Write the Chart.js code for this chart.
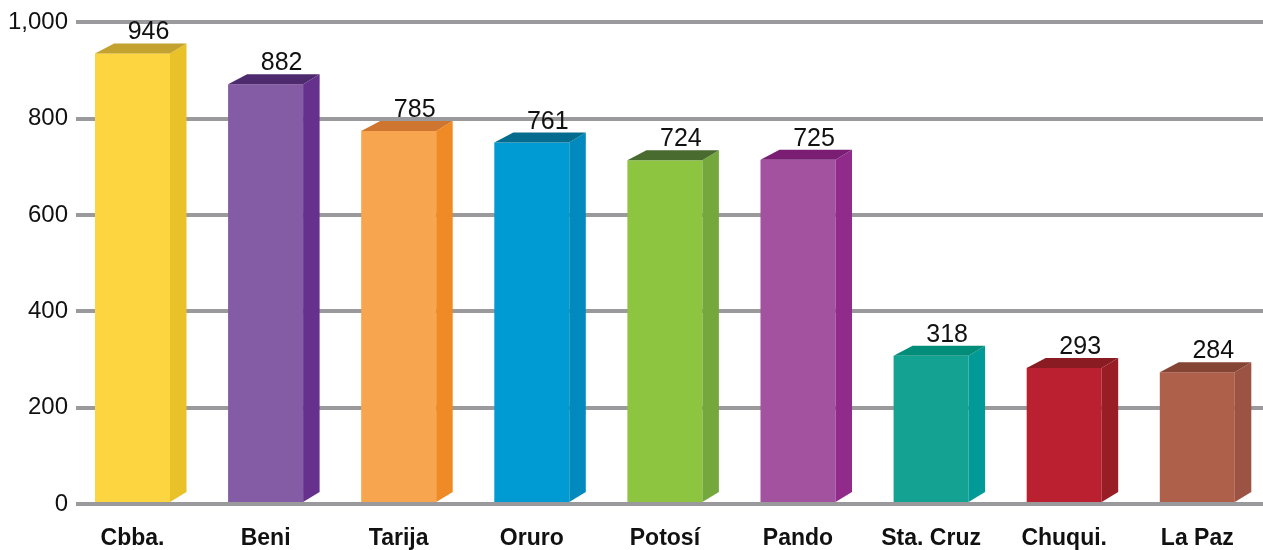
<!DOCTYPE html>
<html>
<head>
<meta charset="utf-8">
<script src="https://cdn.jsdelivr.net/npm/chart.js@4/dist/chart.umd.min.js"></script>
<style>
html,body{margin:0;padding:0;background:#fff;}
#wrap{width:1263px;height:550px;position:relative;}
</style>
</head>
<body>
<div id="wrap"><canvas id="c"></canvas></div>
<script>
const categories = ['Cbba.', 'Beni', 'Tarija', 'Oruro', 'Potosí', 'Pando', 'Sta. Cruz', 'Chuqui.', 'La Paz'];
const values = [946, 882, 785, 761, 724, 725, 318, 293, 284];
const frontColors = ['#FDD540', '#845BA5', '#F8A550', '#019BD4', '#8DC540', '#A352A0', '#14A292', '#BA202F', '#AF604A'];
const sideColors  = ['#E9C229', '#66318C', '#F08A24', '#0289BD', '#74A83C', '#902B8C', '#019A96', '#981D24', '#9C5343'];
const topColors   = ['#C4A22F', '#4D2A6E', '#CE7530', '#046D8F', '#4A6B2F', '#7A1E74', '#028C7A', '#8A1B22', '#844535'];
const yTicks = [0, 200, 400, 600, 800, 1000];

const FONT = "'Liberation Sans', Arial, sans-serif";

const bar3d = {
  id: 'bar3d',
  afterDatasetsDraw(chart) {
    const ctx = chart.ctx;
    const meta = chart.getDatasetMeta(0);
    const dxR = 16.5, dxL = 19, dy = 10;
    meta.data.forEach((el, i) => {
      const p = el.getProps(['x', 'y', 'base', 'width'], true);
      const xl = p.x - p.width / 2, xr = p.x + p.width / 2;
      const yt = p.y + dy / 2;
      const yb = p.base;
      ctx.save();
      ctx.fillStyle = frontColors[i];
      ctx.fillRect(xl, yt, xr - xl, yb - yt);
      ctx.fillStyle = sideColors[i];
      ctx.beginPath();
      ctx.moveTo(xr, yt);
      ctx.lineTo(xr + dxR, yt - dy);
      ctx.lineTo(xr + dxR, yb - dy);
      ctx.lineTo(xr, yb);
      ctx.closePath();
      ctx.fill();
      ctx.fillStyle = topColors[i];
      ctx.beginPath();
      ctx.moveTo(xl, yt);
      ctx.lineTo(xr, yt);
      ctx.lineTo(xr + dxR, yt - dy);
      ctx.lineTo(xl + dxL, yt - dy);
      ctx.closePath();
      ctx.fill();
      ctx.fillStyle = '#111';
      ctx.font = '25px ' + FONT;
      ctx.textAlign = 'center';
      ctx.textBaseline = 'alphabetic';
      ctx.fillText(String(values[i]), p.x + 16, p.y - 9);
      ctx.restore();
    });
  }
};

new Chart(document.getElementById('c'), {
  type: 'bar',
  data: {
    datasets: [{
      data: values.map((v, i) => ({ x: i, y: v })),
      backgroundColor: 'rgba(0,0,0,0)',
      borderWidth: 0,
      barThickness: 75
    }]
  },
  options: {
    responsive: true,
    maintainAspectRatio: false,
    animation: false,
    layout: { padding: { left: 0, right: 0, top: 21, bottom: 0 } },
    plugins: { legend: { display: false }, tooltip: { enabled: false } },
    scales: {
      x: {
        type: 'linear',
        offset: false,
        min: -0.4245,
        max: 8.4937,
        grid: { display: false, drawTicks: false },
        border: { display: false },
        afterFit(s) { s.height = 46; },
        afterBuildTicks(s) { s.ticks = categories.map((c, i) => ({ value: i })); },
        ticks: {
          autoSkip: false,
          maxRotation: 0,
          padding: 21,
          color: '#111',
          font: { family: FONT, size: 23, weight: 'bold' },
          callback: (v) => categories[v]
        }
      },
      y: {
        min: 0,
        max: 1000,
        afterFit(s) { s.width = 76; },
        afterBuildTicks(s) { s.ticks = yTicks.map(v => ({ value: v })); },
        grid: { color: '#9A9A9C', lineWidth: 4, drawTicks: false },
        border: { display: false },
        ticks: {
          padding: 8,
          color: '#111',
          font: { family: FONT, size: 24 },
          callback: (v) => v.toLocaleString('en-US')
        }
      }
    }
  },
  plugins: [bar3d]
});
</script>
</body>
</html>
